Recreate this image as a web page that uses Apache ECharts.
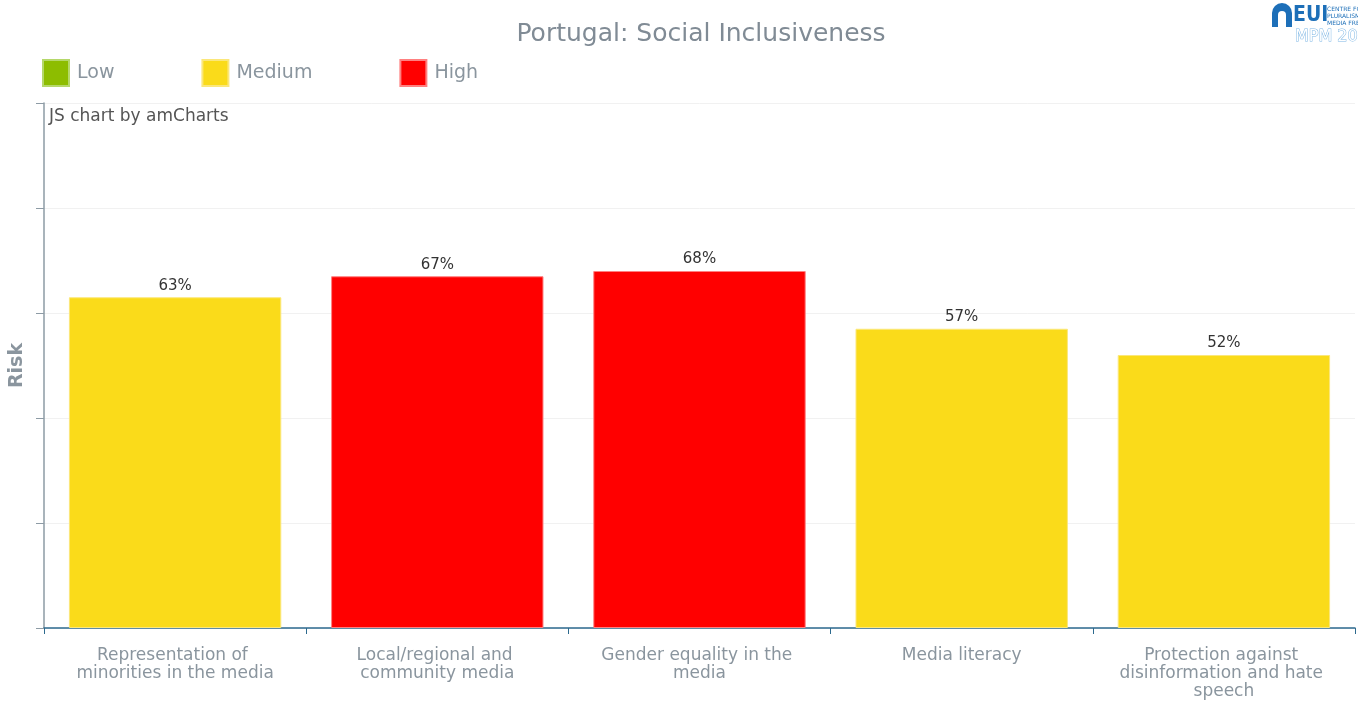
<!DOCTYPE html>
<html>
<head>
<meta charset="utf-8">
<script src="https://cdn.jsdelivr.net/npm/echarts@6/dist/echarts.min.js"></script>
<style>
  html, body { margin: 0; padding: 0; background: #ffffff; }
  #chart { width: 1358px; height: 701px; }
</style>
</head>
<body>
<div id="chart"></div>
<script>
const categories = [
  'Representation of minorities in the media',
  'Local/regional and community media',
  'Gender equality in the media',
  'Media literacy',
  'Protection against disinformation and hate speech'
];
const riskValues = [63, 67, 68, 57, 52];
const riskLevels = ['Medium', 'High', 'High', 'Medium', 'Medium'];
const levelNames = ['Low', 'Medium', 'High'];
const levelColors = { Low: '#8DBD00', Medium: '#FADB1A', High: '#FF0000' };
const levelBorders = { Low: '#b5d86a', Medium: '#fbe77a', High: '#ff8080' };
const yTicks = [0, 20, 40, 60, 80, 100];

const FONT = 'DejaVu Sans, Verdana, sans-serif';
const GREY = '#8a959e';
const LOGO = '#1d6fb8';

const series = levelNames.map(name => ({
  name: name,
  type: 'bar',
  stack: 'risk',
  barCategoryGap: '19%',
  itemStyle: { color: levelColors[name], borderColor: levelBorders[name], borderWidth: 1 },
  label: {
    show: true, position: 'top', distance: 4,
    fontFamily: FONT, fontSize: 15, color: '#333',
    formatter: p => (p.value == null ? '' : p.value + '%')
  },
  data: riskValues.map((v, i) => (riskLevels[i] === name ? v : null))
}));

const chart = echarts.init(document.getElementById('chart'), null, { renderer: 'canvas' });
chart.setOption({
  animation: false,
  backgroundColor: '#ffffff',
  title: {
    text: 'Portugal: Social Inclusiveness',
    left: 696, top: 17, textAlign: 'center',
    textStyle: { fontFamily: FONT, fontSize: 25, fontWeight: 'normal', color: '#808b95' }
  },
  legend: {
    data: levelNames,
    left: 37, top: 54,
    itemWidth: 26, itemHeight: 26, itemGap: 87,
    icon: 'rect',
    selectedMode: false,
    textStyle: { fontFamily: FONT, fontSize: 19, color: GREY, padding: [0, 0, 0, 3] }
  },
  grid: { left: 42, right: 3, top: 103, bottom: 73, containLabel: false },
  xAxis: {
    type: 'category',
    data: categories,
    axisLine: { lineStyle: { color: '#2d6a8e', width: 1.5 } },
    axisTick: { show: true, length: 6, lineStyle: { color: '#2d6a8e' } },
    axisLabel: {
      interval: 0, margin: 19,
      fontFamily: FONT, fontSize: 17, lineHeight: 18, color: GREY,
      width: 215, overflow: 'break', align: 'center'
    }
  },
  yAxis: {
    type: 'value',
    min: yTicks[0], max: yTicks[yTicks.length - 1], interval: yTicks[1] - yTicks[0],
    name: 'Risk', nameLocation: 'middle', nameGap: 17, nameRotate: 90,
    nameTextStyle: { fontFamily: FONT, fontSize: 19, fontWeight: 'bold', color: GREY },
    axisLine: { show: true, lineStyle: { color: '#8d9ba5', width: 1.5 } },
    axisTick: { show: true, length: 8, lineStyle: { color: '#8d9ba5' } },
    axisLabel: { show: false },
    splitLine: { show: true, lineStyle: { color: '#f1f1f1' } }
  },
  series: series,
  graphic: [
    { type: 'text', left: 49, top: 108,
      style: { text: 'JS chart by amCharts', font: '17px DejaVu Sans, Verdana, sans-serif', fill: '#555' } },
    { type: 'circle', shape: { cx: 1282, cy: 13, r: 10 }, style: { fill: LOGO } },
    { type: 'rect', shape: { x: 1272, y: 13, width: 20, height: 14 }, style: { fill: LOGO } },
    { type: 'circle', shape: { cx: 1282, cy: 15, r: 4 }, style: { fill: '#ffffff' } },
    { type: 'rect', shape: { x: 1278, y: 15, width: 8, height: 12 }, style: { fill: '#ffffff' } },
    { type: 'text', x: 1293, y: 5, style: { text: 'EUI', font: 'bold 21px DejaVu Sans Condensed, DejaVu Sans, sans-serif', fill: LOGO } },
    { type: 'text', x: 1327, y: 6, style: { text: 'CENTRE FOR', font: '6px DejaVu Sans, sans-serif', fill: LOGO } },
    { type: 'text', x: 1327, y: 13, style: { text: 'PLURALISM A', font: '6px DejaVu Sans, sans-serif', fill: LOGO } },
    { type: 'text', x: 1327, y: 20, style: { text: 'MEDIA FREED', font: '6px DejaVu Sans, sans-serif', fill: LOGO } },
    { type: 'text', x: 1295, y: 29, style: { text: 'MPM 202', font: '16px DejaVu Sans, sans-serif', fill: '#ffffff', stroke: '#7fb7e4', lineWidth: 1 } }
  ]
});
</script>
</body>
</html>
